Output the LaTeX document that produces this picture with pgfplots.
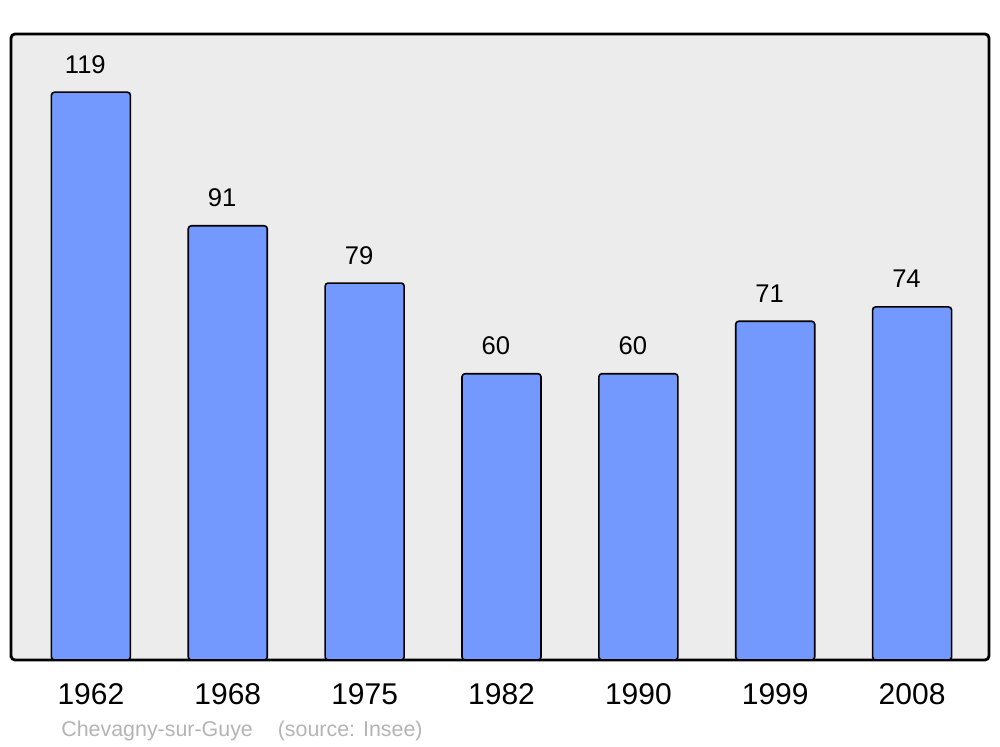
\documentclass[border=0pt]{standalone}
\usepackage{pgfplots}
\pgfplotsset{compat=1.18}
\usepackage{fontspec}
\setmainfont{Liberation Sans}
\definecolor{barblue}{RGB}{115,153,255}
\definecolor{panel}{RGB}{236,236,236}
\definecolor{srcgray}{RGB}{180,180,180}
\begin{document}
\begin{tikzpicture}
\begin{axis}[
    name=ax,
    scale only axis,
    width=489pt,
    height=313pt,
    xmin=-0.584, xmax=6.562,
    ymin=0, ymax=131.2,
    xtick=data,
    xticklabels={1962,1968,1975,1982,1990,1999,2008},
    ytick=\empty,
    major tick length=0pt,
    xticklabel style={font=\fontsize{15}{17}\selectfont, anchor=base, yshift=-22.5pt},
    axis line style={line width=1.4pt, rounded corners=2pt},
    axis background/.style={fill=panel, rounded corners=2pt},
    /pgf/number format/assume math mode=true,
    nodes near coords,
    every node near coord/.append style={font=\fontsize{12.8}{15}\selectfont, anchor=base, inner sep=0pt, yshift=9.5pt, xshift=-2.8pt, text=black},
]
\addplot[ybar, bar width=39.5pt, fill=barblue, draw=black, line width=0.8pt, rounded corners=1.5pt]
    coordinates {(0,119) (1,91) (2,79) (3,60) (4,60) (5,71) (6,74)};
\end{axis}
\node[anchor=base west, text=srcgray, font=\fontsize{10.7}{13}\selectfont, inner sep=0pt]
    at ([xshift=25pt,yshift=-38.5pt]ax.south west) {Chevagny-sur-Guye\hspace{12.5pt}(source: Insee)};
\path ([xshift=-5.5pt,yshift=-43.5pt]ax.south west) rectangle ([xshift=5.5pt,yshift=17pt]ax.north east);
\end{tikzpicture}
\end{document}
